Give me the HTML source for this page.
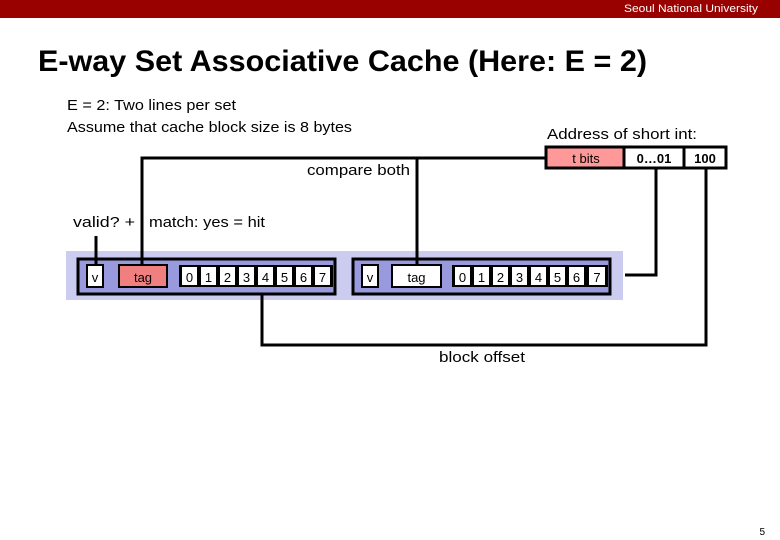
<!DOCTYPE html>
<html><head><meta charset="utf-8"><style>
html,body{margin:0;padding:0;background:#fff}
svg{display:block}
text{font-family:"Liberation Sans",sans-serif}
</style></head><body>
<svg width="780" height="540" viewBox="0 0 780 540" xmlns="http://www.w3.org/2000/svg">
<rect x="0" y="0" width="780" height="18" fill="#990000"/>
<text x="758" y="12" font-size="11" fill="#fff" text-anchor="end" textLength="134" lengthAdjust="spacingAndGlyphs">Seoul National University</text>
<text x="38" y="71" font-size="30" font-weight="bold" textLength="609" lengthAdjust="spacingAndGlyphs">E-way Set Associative Cache (Here: E = 2)</text>
<text x="67" y="110" font-size="15" textLength="169" lengthAdjust="spacingAndGlyphs">E = 2: Two lines per set</text>
<text x="67" y="132" font-size="15" textLength="285" lengthAdjust="spacingAndGlyphs">Assume that cache block size is 8 bytes</text>
<text x="547" y="139" font-size="15" textLength="150" lengthAdjust="spacingAndGlyphs">Address of short int:</text>
<text x="307" y="175" font-size="15" textLength="103" lengthAdjust="spacingAndGlyphs">compare both</text>
<text x="73" y="227" font-size="15" textLength="62" lengthAdjust="spacingAndGlyphs">valid?  +</text>
<text x="149" y="227" font-size="15" textLength="116" lengthAdjust="spacingAndGlyphs">match: yes = hit</text>
<text x="439" y="362" font-size="15" textLength="86" lengthAdjust="spacingAndGlyphs">block offset</text>
<text x="765" y="535" font-size="10" text-anchor="end">5</text>

<!-- address -->
<rect x="546" y="147" width="78" height="21" fill="#f99" stroke="#000" stroke-width="3"/>
<rect x="624" y="147" width="60" height="21" fill="#fff" stroke="#000" stroke-width="3"/>
<rect x="684" y="147" width="42" height="21" fill="#fff" stroke="#000" stroke-width="3"/>
<text x="586" y="163" font-size="13" text-anchor="middle">t bits</text>
<text x="654" y="163" font-size="13" font-weight="bold" text-anchor="middle">0…01</text>
<text x="705" y="163" font-size="13" font-weight="bold" text-anchor="middle">100</text>

<!-- band -->
<rect x="66" y="251" width="557" height="49" fill="#ccccf0"/>
<rect x="78" y="259" width="257" height="35" fill="#9999dd" stroke="#000" stroke-width="3"/>
<rect x="353" y="259" width="257" height="35" fill="#9999dd" stroke="#000" stroke-width="3"/>

<g stroke="#000" stroke-width="3" fill="none">
<path d="M142 264 V158 H546"/>
<path d="M417 158 V264"/>
<path d="M96 236 V264"/>
<path d="M656 168 V275 H625"/>
<path d="M706 168 V345 H262 V294"/>
</g>

<!-- line 1 -->
<rect x="87" y="265" width="16" height="22" fill="#fff" stroke="#000" stroke-width="2"/>
<text x="95" y="282" font-size="13" text-anchor="middle">v</text>
<rect x="119" y="265" width="48" height="22" fill="#f08080" stroke="#000" stroke-width="2"/>
<text x="143" y="282" font-size="13" text-anchor="middle">tag</text>
<g id="d1">
<rect x="179" y="265" width="154" height="22" fill="#000"/>
</g>
<g font-size="13" text-anchor="middle">
<rect x="182" y="267" width="15" height="18" fill="#fff"/><text x="189.5" y="282">0</text>
<rect x="201" y="267" width="15" height="18" fill="#fff"/><text x="208.5" y="282">1</text>
<rect x="220" y="267" width="15" height="18" fill="#fff"/><text x="227.5" y="282">2</text>
<rect x="239" y="267" width="15" height="18" fill="#fff"/><text x="246.5" y="282">3</text>
<rect x="258" y="267" width="15" height="18" fill="#fff"/><text x="265.5" y="282">4</text>
<rect x="277" y="267" width="15" height="18" fill="#fff"/><text x="284.5" y="282">5</text>
<rect x="296" y="267" width="15" height="18" fill="#fff"/><text x="303.5" y="282">6</text>
<rect x="315" y="267" width="15" height="18" fill="#fff"/><text x="322.5" y="282">7</text>
</g>

<!-- line 2 -->
<rect x="362" y="265" width="16" height="22" fill="#fff" stroke="#000" stroke-width="2"/>
<text x="370" y="282" font-size="13" text-anchor="middle">v</text>
<rect x="392" y="265" width="49" height="22" fill="#fff" stroke="#000" stroke-width="2"/>
<text x="416.5" y="282" font-size="13" text-anchor="middle">tag</text>
<rect x="452" y="265" width="156" height="22" fill="#000"/>
<g font-size="13" text-anchor="middle">
<rect x="455" y="267" width="15" height="18" fill="#fff"/><text x="462.5" y="282">0</text>
<rect x="474" y="267" width="15" height="18" fill="#fff"/><text x="481.5" y="282">1</text>
<rect x="493" y="267" width="15" height="18" fill="#fff"/><text x="500.5" y="282">2</text>
<rect x="512" y="267" width="15" height="18" fill="#fff"/><text x="519.5" y="282">3</text>
<rect x="531" y="267" width="15" height="18" fill="#fff"/><text x="538.5" y="282">4</text>
<rect x="550" y="267" width="15" height="18" fill="#fff"/><text x="557.5" y="282">5</text>
<rect x="569" y="267" width="15" height="18" fill="#fff"/><text x="576.5" y="282">6</text>
<rect x="589" y="267" width="16" height="18" fill="#fff"/><text x="597" y="282">7</text>
</g>
</svg>
</body></html>
